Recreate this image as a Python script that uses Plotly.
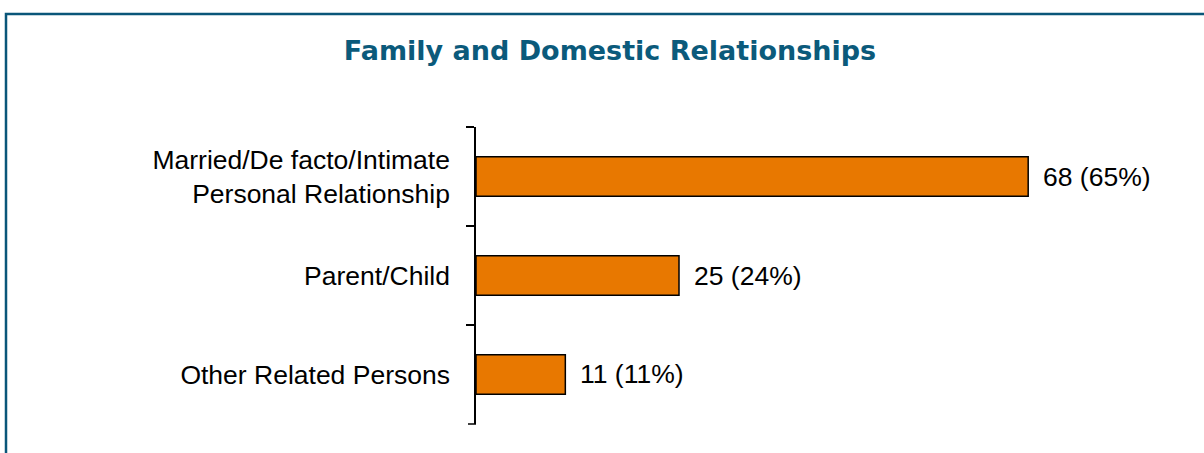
import plotly.graph_objects as go

categories = ["Married/De facto/Intimate<br>Personal Relationship", "Parent/Child", "Other Related Persons"]
counts = [68, 25, 11]
percents = [65, 24, 11]

W, H = 1204, 453
L, R, T, B = 476, 54, 127, 29
plot_w = W - L - R
plot_h = H - T - B
x_max = 83
tick_len = 8

bar_color = "#E87800"
title_color = "#0B5A7B"
frame_color = "#0A5679"
label_font = dict(family="Liberation Sans, Arial", size=26.5, color="#000000")

fig = go.Figure(
    go.Bar(
        x=counts,
        y=categories,
        orientation="h",
        marker=dict(color=bar_color, line=dict(color="#000000", width=1.5)),
        width=0.4,
        hoverinfo="skip",
    )
)

for c, p, cat in zip(counts, percents, categories):
    fig.add_annotation(
        x=c, y=cat, xref="x", yref="y",
        text=f"{c} ({p}%)",
        showarrow=False, xanchor="left", yanchor="middle", xshift=13,
        font=label_font,
    )

def px_to_paper_x(px):
    return (px - L) / plot_w

def px_to_paper_y(py):
    return (H - B - py) / plot_h

# outer frame around the chart
fig.add_shape(
    type="rect", xref="paper", yref="paper",
    x0=px_to_paper_x(6), x1=px_to_paper_x(1215),
    y0=px_to_paper_y(470), y1=px_to_paper_y(14),
    line=dict(color=frame_color, width=2.5), fillcolor="rgba(0,0,0,0)",
    layer="above",
)

# closing tick at the lower end of the category axis
fig.add_shape(
    type="line", xref="paper", yref="paper",
    x0=px_to_paper_x(L - tick_len), x1=0, y0=0, y1=0,
    line=dict(color="#000000", width=1.5),
)

fig.update_layout(
    width=W, height=H,
    margin=dict(l=L, r=R, t=T, b=B, pad=0),
    paper_bgcolor="white", plot_bgcolor="white",
    showlegend=False,
    title=dict(
        text="Family and Domestic Relationships",
        x=610 / W, xanchor="center", y=1 - 51 / H, yanchor="middle",
        font=dict(family="DejaVu Sans", size=27, color=title_color, weight="bold"),
    ),
    xaxis=dict(range=[0, x_max], visible=False, fixedrange=True),
    yaxis=dict(
        range=[2.5005, -0.5005],
        showline=True, linecolor="#000000", linewidth=1.5,
        ticks="outside", tickson="boundaries", ticklen=tick_len, tickwidth=1.5, tickcolor="#000000",
        ticklabelstandoff=19,
        showgrid=False, zeroline=False,
        tickfont=label_font,
    ),
)

fig.write_html("out.html")
